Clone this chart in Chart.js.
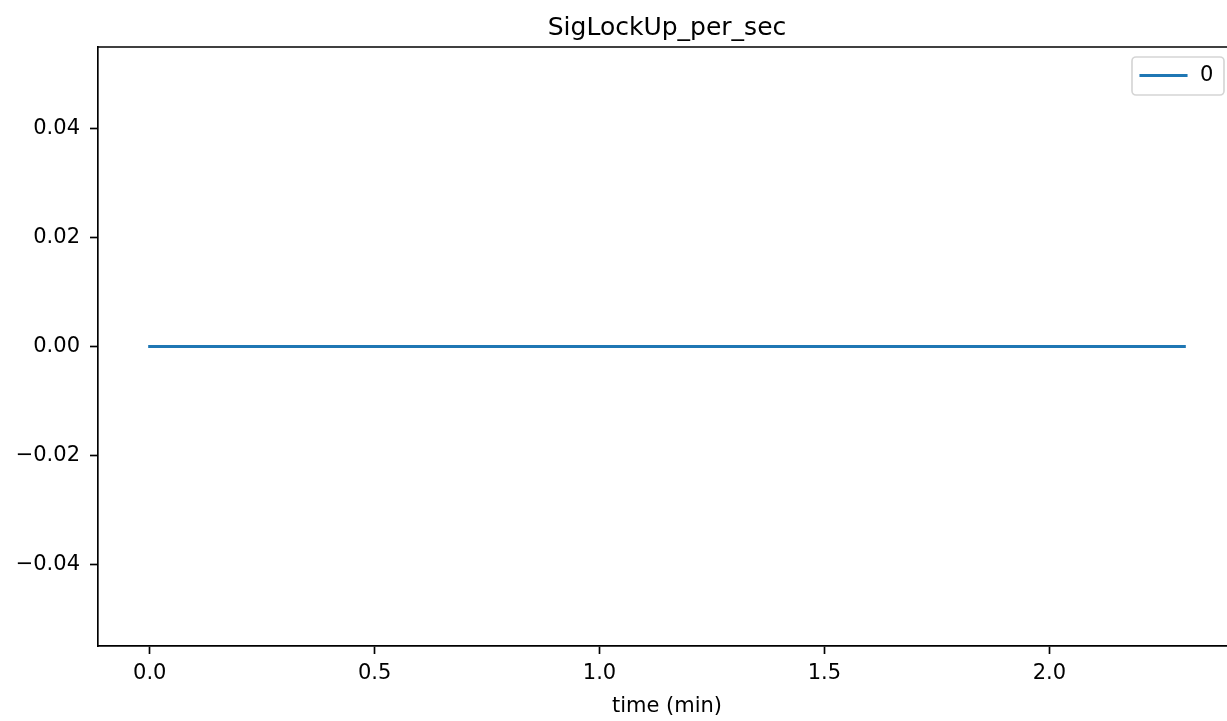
<!DOCTYPE html>
<html>
<head>
<meta charset="utf-8">
<script src="https://cdn.jsdelivr.net/npm/chart.js@4.4.1/dist/chart.umd.min.js"></script>
<style>
  html, body { margin: 0; padding: 0; overflow: hidden; background: #fff; }
  #wrap { width: 1240px; height: 721px; }
</style>
</head>
<body>
<div id="wrap"><canvas id="c" width="1240" height="721"></canvas></div>
<script>
// ---- data ----
const chartTitle = 'SigLockUp_per_sec';
const xAxisLabel = 'time (min)';
const seriesName = '0';
const timeMin = [0, 0.1, 0.2, 0.3, 0.4, 0.5, 0.6, 0.7, 0.8, 0.9, 1.0, 1.1, 1.2,
                 1.3, 1.4, 1.5, 1.6, 1.7, 1.8, 1.9, 2.0, 2.1, 2.2, 2.3];
const values = [0, 0, 0, 0, 0, 0, 0, 0, 0, 0, 0, 0, 0,
                0, 0, 0, 0, 0, 0, 0, 0, 0, 0, 0];
const xTicks = [0, 0.5, 1.0, 1.5, 2.0];
const yTicks = [-0.04, -0.02, 0.0, 0.02, 0.04];
const xRange = [-0.115, 2.415];
const yRange = [-0.055, 0.055];

const FONT = "'DejaVu Sans', sans-serif";
const BLUE = '#1f77b4';
const SPINE = 1.67;

const fmtY = v => {
  const s = Math.abs(v).toFixed(2);
  return (v < -1e-12 ? '\u2212' : '') + s;
};

const decor = {
  id: 'decor',
  afterDraw(chart) {
    const ctx = chart.ctx;
    const a = chart.chartArea;
    ctx.save();
    // top spine
    ctx.strokeStyle = '#000';
    ctx.lineWidth = SPINE;
    ctx.beginPath();
    ctx.moveTo(a.left - 0.8, a.top);
    ctx.lineTo(a.right + 0.8, a.top);
    ctx.stroke();
    // right spine
    ctx.beginPath();
    ctx.moveTo(a.right, a.top);
    ctx.lineTo(a.right, a.bottom);
    ctx.stroke();
    // title
    ctx.fillStyle = '#000';
    ctx.font = '25px ' + FONT;
    ctx.textAlign = 'center';
    ctx.textBaseline = 'alphabetic';
    ctx.fillText(chartTitle, (a.left + a.right) / 2, 35);
    // legend
    const ds = chart.data.datasets[0];
    const bx = 1132, by = 57, bw = 92, bh = 38, r = 4;
    ctx.fillStyle = 'rgba(255,255,255,0.8)';
    ctx.strokeStyle = '#d5d5d5';
    ctx.lineWidth = SPINE;
    ctx.beginPath();
    ctx.moveTo(bx + r, by);
    ctx.lineTo(bx + bw - r, by);
    ctx.arcTo(bx + bw, by, bx + bw, by + r, r);
    ctx.lineTo(bx + bw, by + bh - r);
    ctx.arcTo(bx + bw, by + bh, bx + bw - r, by + bh, r);
    ctx.lineTo(bx + r, by + bh);
    ctx.arcTo(bx, by + bh, bx, by + bh - r, r);
    ctx.lineTo(bx, by + r);
    ctx.arcTo(bx, by, bx + r, by, r);
    ctx.closePath();
    ctx.fill();
    ctx.stroke();
    ctx.strokeStyle = ds.borderColor;
    ctx.lineWidth = 3.1;
    ctx.lineCap = 'square';
    ctx.beginPath();
    ctx.moveTo(1141, 75.5);
    ctx.lineTo(1186, 75.5);
    ctx.stroke();
    ctx.fillStyle = '#000';
    ctx.font = '21px ' + FONT;
    ctx.textAlign = 'left';
    ctx.textBaseline = 'middle';
    ctx.fillText(ds.label, 1200, 76);
    ctx.restore();
  }
};

new Chart(document.getElementById('c'), {
  type: 'line',
  data: {
    datasets: [{
      label: seriesName,
      data: timeMin.map((t, i) => ({ x: t, y: values[i] })),
      borderColor: BLUE,
      backgroundColor: BLUE,
      borderWidth: 3.1,
      borderCapStyle: 'square',
      pointRadius: 0,
      tension: 0,
      fill: false
    }]
  },
  options: {
    responsive: false,
    animation: false,
    layout: { padding: { top: 47, right: 4, left: 0, bottom: 0 } },
    plugins: { legend: { display: false }, title: { display: false }, tooltip: { enabled: false } },
    scales: {
      x: {
        type: 'linear',
        min: xRange[0],
        max: xRange[1],
        afterBuildTicks: s => { s.ticks = xTicks.map(v => ({ value: v })); },
        afterFit: s => { s.height = 75; },
        ticks: {
          autoSkip: false,
          maxRotation: 0,
          color: '#000',
          font: { family: FONT, size: 21 },
          padding: 7,
          callback: v => Number(v).toFixed(1)
        },
        grid: { display: true, drawOnChartArea: false, drawTicks: true, tickLength: 8, tickColor: '#000', tickWidth: SPINE },
        border: { display: true, color: '#000', width: SPINE },
        title: { display: true, text: xAxisLabel, color: '#000', font: { family: FONT, size: 21 }, padding: { top: 0, bottom: 2 } }
      },
      y: {
        type: 'linear',
        min: yRange[0],
        max: yRange[1],
        afterBuildTicks: s => { s.ticks = yTicks.map(v => ({ value: v })); },
        afterFit: s => { s.width = 98; },
        ticks: {
          autoSkip: false,
          color: '#000',
          font: { family: FONT, size: 21 },
          padding: 10,
          callback: v => fmtY(Number(v))
        },
        grid: { display: true, drawOnChartArea: false, drawTicks: true, tickLength: 8, tickColor: '#000', tickWidth: SPINE },
        border: { display: true, color: '#000', width: SPINE }
      }
    }
  },
  plugins: [decor]
});
</script>
</body>
</html>
